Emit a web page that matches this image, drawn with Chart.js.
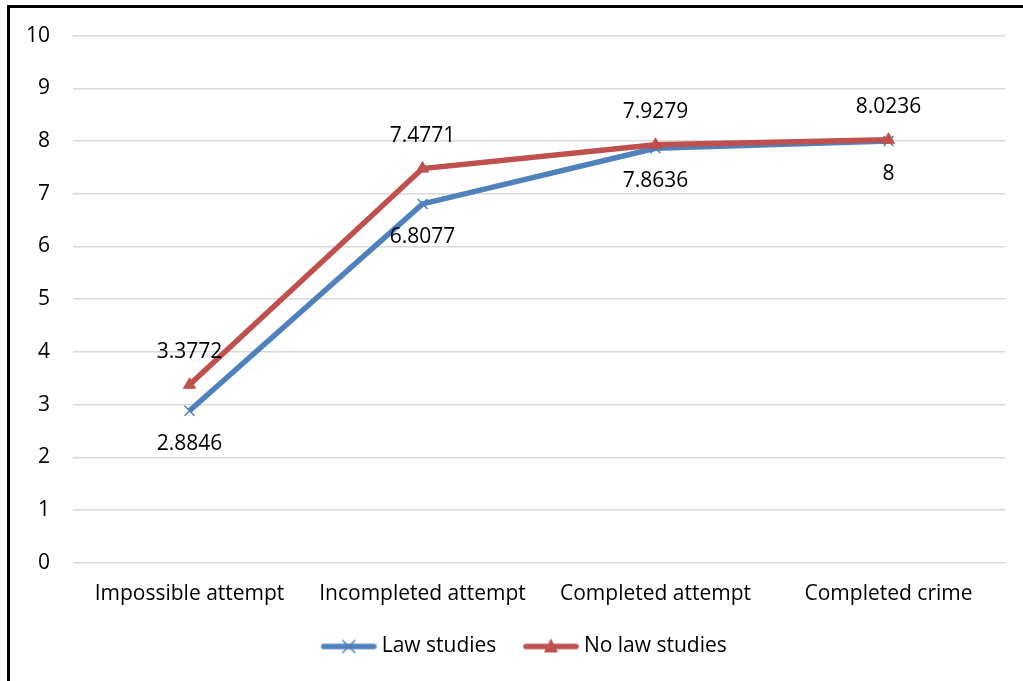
<!DOCTYPE html>
<html>
<head>
<meta charset="utf-8">
<script src="https://cdn.jsdelivr.net/npm/chart.js@4/dist/chart.umd.min.js"></script>
<style>
  html, body { margin: 0; padding: 0; background: #fff; }
  #wrap { position: relative; width: 1023px; height: 681px; overflow: hidden; }
  #frame { position: absolute; left: 7px; top: 5px; right: -10px; bottom: -10px;
           border-left: 3px solid #000; border-top: 3px solid #000; pointer-events: none; }
  canvas { position: absolute; left: 0; top: 0; }
</style>
</head>
<body>
<div id="wrap">
  <canvas id="chart" width="1023" height="681"></canvas>
  <div id="frame"></div>
</div>
<script>
// Stages of the offence on the horizontal axis
const categories = ['Impossible attempt', 'Incompleted attempt', 'Completed attempt', 'Completed crime'];
// Mean scores per group
const lawStudies = [2.8846, 6.8077, 7.8636, 8];
const noLawStudies = [3.3772, 7.4771, 7.9279, 8.0236];
// Vertical axis ticks
const yTicks = [0, 1, 2, 3, 4, 5, 6, 7, 8, 9, 10];
const seriesNames = ['Law studies', 'No law studies'];

const BLUE = '#4F81BD';
const RED = '#C0504D';
const FONT = '"Open Sans", sans-serif';
const FONT_SIZE = 21;
const PAD_LEFT = 26;

// Legend swatch: a thick line with the series marker in the middle.
// The transparent strip on the left widens the gap between legend items.
const SW_GAP = 11;
function swatch(color, marker) {
  const c = document.createElement('canvas');
  c.width = 56 + SW_GAP * 2; c.height = 18;
  const g = c.getContext('2d');
  const x0 = SW_GAP * 2;
  g.strokeStyle = color; g.lineWidth = 5.5; g.lineCap = 'round';
  g.beginPath(); g.moveTo(x0 + 3, 9); g.lineTo(x0 + 53, 9); g.stroke();
  const cx = x0 + 28;
  if (marker === 'cross') {
    g.lineWidth = 1.5;
    g.beginPath();
    g.moveTo(cx - 6, 3); g.lineTo(cx + 6, 15);
    g.moveTo(cx + 6, 3); g.lineTo(cx - 6, 15);
    g.stroke();
  } else {
    g.fillStyle = color;
    g.beginPath(); g.moveTo(cx, 1); g.lineTo(cx + 7, 15); g.lineTo(cx - 7, 15); g.closePath(); g.fill();
  }
  return c;
}

// Value labels: law studies below its points, no law studies above
const valueLabels = {
  id: 'valueLabels',
  afterDatasetsDraw(chart) {
    const ctx = chart.ctx;
    ctx.save();
    ctx.font = FONT_SIZE + 'px ' + FONT;
    ctx.fillStyle = '#000';
    ctx.textAlign = 'center';
    ctx.textBaseline = 'middle';
    chart.data.datasets.forEach((ds, i) => {
      const meta = chart.getDatasetMeta(i);
      const dy = ds.labelSide === 'below' ? 33 : -33;
      meta.data.forEach((pt, j) => {
        ctx.fillText(String(ds.data[j]), pt.x, pt.y + dy);
      });
    });
    ctx.restore();
  }
};

new Chart(document.getElementById('chart'), {
  type: 'line',
  data: {
    labels: categories,
    datasets: [
      {
        label: seriesNames[0],
        data: lawStudies,
        borderColor: BLUE,
        backgroundColor: BLUE,
        borderWidth: 5.5,
        pointStyle: 'crossRot',
        pointRadius: 7,
        pointBorderWidth: 1.5,
        pointBorderColor: BLUE,
        tension: 0,
        order: 1,
        labelSide: 'below',
        legendSwatch: swatch(BLUE, 'cross')
      },
      {
        label: seriesNames[1],
        data: noLawStudies,
        borderColor: RED,
        backgroundColor: RED,
        borderWidth: 5.5,
        pointStyle: 'triangle',
        pointRadius: 7,
        pointBorderWidth: 1,
        pointBorderColor: RED,
        tension: 0,
        order: 0,
        labelSide: 'above',
        legendSwatch: swatch(RED, 'triangle')
      }
    ]
  },
  options: {
    responsive: false,
    animation: false,
    devicePixelRatio: 1,
    layout: { padding: { top: 35, right: 18, bottom: 14, left: PAD_LEFT } },
    plugins: {
      tooltip: { enabled: false },
      legend: {
        position: 'bottom',
        labels: {
          usePointStyle: true,
          pointStyleWidth: 56 + SW_GAP,
          padding: 10,
          color: '#000',
          font: { family: FONT, size: FONT_SIZE },
          generateLabels(chart) {
            return chart.data.datasets.map((ds, i) => ({
              text: ds.label,
              pointStyle: ds.legendSwatch,
              fillStyle: ds.borderColor,
              strokeStyle: ds.borderColor,
              lineWidth: 0,
              fontColor: '#000',
              datasetIndex: i,
              hidden: false
            }));
          }
        }
      }
    },
    scales: {
      x: {
        offset: true,
        grid: { display: false, drawTicks: false },
        border: { display: false },
        ticks: { color: '#000', padding: 19, font: { family: FONT, size: FONT_SIZE } }
      },
      y: {
        min: 0,
        max: 10,
        afterBuildTicks(scale) { scale.ticks = yTicks.map(v => ({ value: v })); },
        afterFit(scale) { scale.width = 73 - PAD_LEFT; },
        grid: { color: '#d9d9d9', lineWidth: 1.5, drawTicks: false },
        border: { display: false },
        ticks: { color: '#000', padding: 23, font: { family: FONT, size: FONT_SIZE } }
      }
    }
  },
  plugins: [valueLabels]
});
</script>
</body>
</html>
